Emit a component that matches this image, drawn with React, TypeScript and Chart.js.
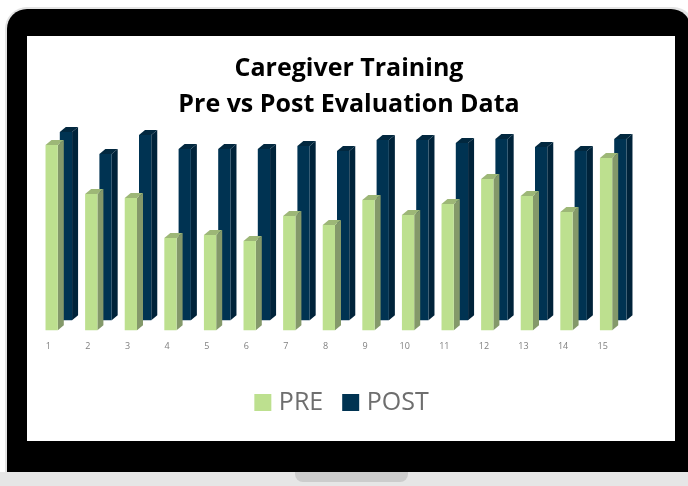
import React, { useEffect, useRef } from "react";
import { Chart, registerables } from "chart.js";

Chart.register(...registerables);

const categories = ["1", "2", "3", "4", "5", "6", "7", "8", "9", "10", "11", "12", "13", "14", "15"];
const preValues = [185, 136, 132, 92, 95, 89, 114, 105, 130, 115, 126, 151, 134, 118, 172];
const postValues = [188, 166, 185, 171, 171, 171, 174, 169, 180, 180, 177, 181, 173, 169, 181];
const titleLines = ["Caregiver Training", "Pre vs Post Evaluation Data"];

const faces = [
  { side: "#84996a", top: "#9db777" },
  { side: "#00233a", top: "#02283f" },
];
const DEPTH_X = 6;
const DEPTH_Y = 5;
const TITLE_SHIFT = 14;
const LEGEND_SHIFT = 9;

const bars3d = {
  id: "bars3d",
  afterLayout(chart: any) {
    chart.titleBlock.left += TITLE_SHIFT;
    chart.titleBlock.right += TITLE_SHIFT;
    chart.legend.left += LEGEND_SHIFT;
    chart.legend.right += LEGEND_SHIFT;
  },
  beforeDatasetDraw(chart: any, args: any) {
    const ctx = chart.ctx;
    ctx.save();
    if (args.index === 1) ctx.translate(2, -10);
    const f = faces[args.index];
    for (const el of args.meta.data) {
      const { x, y, base, width } = el.getProps(["x", "y", "base", "width"], true);
      const l = x - width / 2;
      const r = x + width / 2;
      ctx.fillStyle = f.side;
      ctx.beginPath();
      ctx.moveTo(r, y);
      ctx.lineTo(r + DEPTH_X, y - DEPTH_Y);
      ctx.lineTo(r + DEPTH_X, base - DEPTH_Y);
      ctx.lineTo(r, base);
      ctx.closePath();
      ctx.fill();
      ctx.fillStyle = f.top;
      ctx.beginPath();
      ctx.moveTo(l, y);
      ctx.lineTo(l + DEPTH_X, y - DEPTH_Y);
      ctx.lineTo(r + DEPTH_X, y - DEPTH_Y);
      ctx.lineTo(r, y);
      ctx.closePath();
      ctx.fill();
    }
  },
  afterDatasetDraw(chart: any) {
    chart.ctx.restore();
  },
};

export default function App() {
  const ref = useRef<HTMLCanvasElement>(null);
  useEffect(() => {
    const chart = new Chart(ref.current!, {
      type: "bar",
      data: {
        labels: categories,
        datasets: [
          { label: "PRE", data: preValues, backgroundColor: "#bde08f", clip: false } as any,
          { label: "POST", data: postValues, backgroundColor: "#003352", clip: false } as any,
        ],
      },
      plugins: [bars3d],
      options: {
        animation: false,
        responsive: false,
        layout: { padding: { left: 11, right: 43, top: 0, bottom: 16 } },
        datasets: { bar: { categoryPercentage: 0.62, barPercentage: 1 } },
        plugins: {
          tooltip: { enabled: false },
          title: {
            display: true,
            text: titleLines,
            color: "#000",
            font: { family: "'Open Sans'", size: 25, weight: "bold", lineHeight: 1.44 },
            padding: { top: 15, bottom: 7 },
          },
          legend: {
            position: "bottom",
            labels: {
              boxWidth: 7,
              boxHeight: 7,
              padding: 24,
              color: "#6e6e6e",
              font: { family: "'Open Sans'", size: 25 },
              generateLabels(c: any) {
                return Chart.defaults.plugins.legend.labels.generateLabels(c).map((it: any) => ({
                  ...it,
                  lineWidth: 10,
                  strokeStyle: it.fillStyle,
                }));
              },
            },
          },
        },
        scales: {
          x: {
            grid: { display: false },
            border: { display: false },
            afterFit(s: any) {
              s.height += 11;
            },
            ticks: {
              color: "#7f7f7f",
              font: { family: "'Open Sans'", size: 9 },
              labelOffset: -9.5,
              padding: 3,
              maxRotation: 0,
              autoSkip: false,
            },
          },
          y: { display: false, min: 0, max: 200 },
        },
      },
    } as any);
    return () => chart.destroy();
  }, []);

  return (
    <div style={{ position: "fixed", left: 0, top: 0, width: 688, height: 486, background: "#fff", overflow: "hidden" }}>
      <div style={{ position: "absolute", left: 0, top: 472, width: 688, height: 14, background: "#e6e6e6" }} />
      <div style={{ position: "absolute", left: 295, top: 472, width: 113, height: 10, background: "#cccccc", borderRadius: "0 0 8px 8px" }} />
      <div style={{ position: "absolute", left: 5, top: 7, width: 690, height: 465, background: "#e4e4e4", borderRadius: "22px 22px 0 0" }} />
      <div style={{ position: "absolute", left: 7, top: 9, width: 684, height: 463, background: "#000", borderRadius: "20px 20px 0 0" }} />
      <div style={{ position: "absolute", left: 27, top: 36, width: 648, height: 405, background: "#fff", overflow: "hidden" }}>
        <canvas ref={ref} width={648} height={405} style={{ display: "block", filter: "blur(0.4px)" }} />
      </div>
    </div>
  );
}
